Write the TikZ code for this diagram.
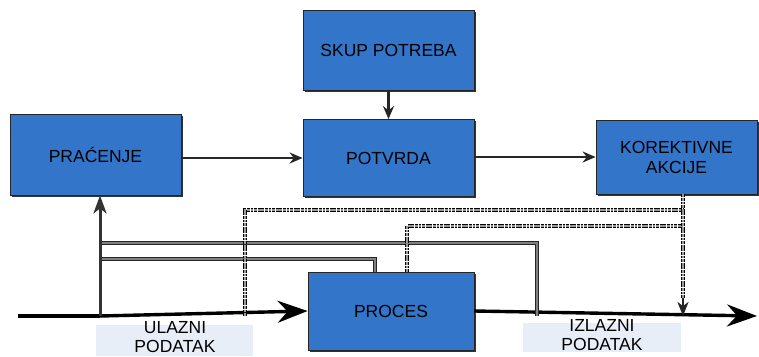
\documentclass[tikz,border=0pt]{standalone}
\usepackage{fontspec}
\setmainfont{Liberation Sans}
\usetikzlibrary{arrows.meta,shadows}
\definecolor{boxblue}{RGB}{51,117,200}
\definecolor{lblfill}{RGB}{232,238,248}
\tikzset{
  blk/.style={draw=black!85, fill=boxblue, line width=0.8pt, align=center,
    inner sep=0pt, font=\fontsize{17.5}{20}\selectfont,
    drop shadow={shadow xshift=1.5pt, shadow yshift=-1.5pt, fill=black!80, opacity=1}},
  lbl/.style={fill=lblfill, draw=none, inner sep=0pt},
  lbltext/.style={align=center, inner sep=0pt, font=\fontsize{17.5}{19}\selectfont},
  mainline/.style={line width=3.4pt, black},
  bigtip/.style={-{Stealth[length=30pt,width=22pt,inset=10pt]}},
  arr/.style={line width=2.2pt, black!85, -{Stealth[length=13pt,width=11pt]}},
  conn/.style={line width=1pt, draw=black!85, double=black!50, double distance=1.5pt},
  dotback/.style={line width=3.8pt, draw=black, dash pattern=on 2.8pt off 0.8pt},
  dotfront/.style={line width=1.2pt, draw=black!40, dash pattern=on 2.8pt off 0.8pt},
}
\begin{document}
\begin{tikzpicture}[x=1pt,y=-1pt]
\useasboundingbox (0,0) rectangle (759,356);
% label boxes
\node[lbl, minimum width=157pt, minimum height=31pt] (ulbox) at (174.5,340.5) {};
\node[lbl, minimum width=158pt, minimum height=29pt] (izbox) at (602,337.5) {};
\node[lbltext] (ultext) at (175,337) {ULAZNI\\PODATAK};
\node[lbltext] (iztext) at (602,335) {IZLAZNI\\PODATAK};
% boxes
\node[blk, minimum width=171pt, minimum height=80pt] (skup) at (388.5,50) {SKUP POTREBA};
\node[blk, minimum width=171pt, minimum height=81pt] (prac) at (95.5,154.5) {PRAĆENJE};
\node[blk, minimum width=171pt, minimum height=77pt] (potv) at (388.5,158) {POTVRDA};
\node[blk, minimum width=161pt, minimum height=74pt] (kor) at (676.5,157) {KOREKTIVNE\\AKCIJE};
\node[blk, minimum width=166pt, minimum height=78pt] (proc) at (391,311) {PROCES};
% coordinates
\coordinate (in) at (18,316);
\coordinate (out) at (757,316);
\coordinate (tap) at (100,316);
\coordinate (dtap) at (245,316);
\coordinate (ktap) at (683,316);
\coordinate (kmid) at (683,298);
% main flow
\draw[mainline] (in) -- (tap);
\draw[mainline, bigtip] (tap) -- (proc.west);
\draw[mainline, bigtip] (proc.east) -- (out);
% feedback lines
\draw[conn] (tap |- 0,243) -- (537,243) -- (537,316);
\draw[conn] (tap |- 0,259) -- (375,259) -- (375,272);
\draw[line width=3pt, black!80, -{Stealth[length=18pt,width=13pt,inset=5pt]}] (tap) -- (tap |- prac.south);
% arrows between boxes
\draw[arr] (skup.south) -- (potv.north);
\draw[arr] (prac.east |- potv.west) -- (potv.west);
\draw[arr] (potv.east |- kor.west) -- (kor.west);
% dotted lines
\draw[dotfront, preaction={dotback}] (dtap) -- (245,210) -- (683,210);
\draw[dotfront, preaction={dotback}] (407,272) -- (407,226) -- (683,226);
\draw[dotfront, preaction={dotback}] (kor.south -| kmid) -- (kmid);
\draw[line width=2pt, black!85, -{Stealth[length=14pt,width=11pt,inset=4pt]}] (kmid) -- (ktap);
\end{tikzpicture}
\end{document}
